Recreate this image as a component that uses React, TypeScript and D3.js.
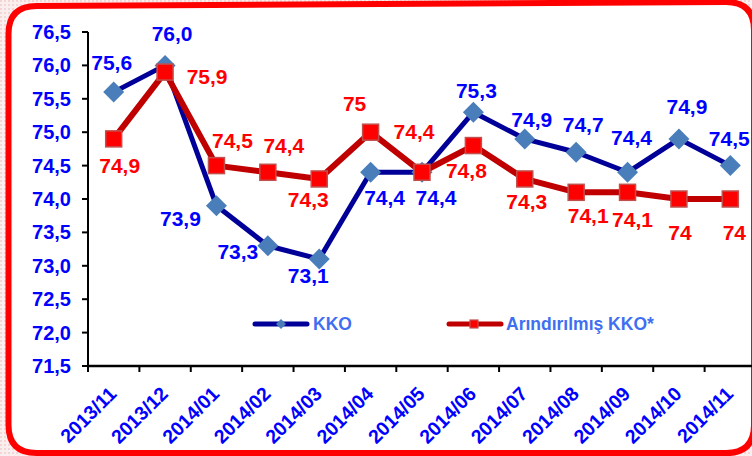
import React, { useEffect, useRef } from "react";
import * as d3 from "d3";

const months = [
  "2013/11", "2013/12", "2014/01", "2014/02", "2014/03", "2014/04", "2014/05",
  "2014/06", "2014/07", "2014/08", "2014/09", "2014/10", "2014/11",
];
const kko = [75.6, 76.0, 73.9, 73.3, 73.1, 74.4, 74.4, 75.3, 74.9, 74.7, 74.4, 74.9, 74.5];
const kkoAdj = [74.9, 75.9, 74.5, 74.4, 74.3, 75.0, 74.4, 74.8, 74.3, 74.1, 74.1, 74.0, 74.0];
const kkoLabels = ["75,6", "76,0", "73,9", "73,3", "73,1", "74,4", "74,4", "75,3", "74,9", "74,7", "74,4", "74,9", "74,5"];
const kkoAdjLabels = ["74,9", "75,9", "74,5", "74,4", "74,3", "75", "74,4", "74,8", "74,3", "74,1", "74,1", "74", "74"];
const yTicks = [71.5, 72.0, 72.5, 73.0, 73.5, 74.0, 74.5, 75.0, 75.5, 76.0, 76.5];

// label offsets from the marker, [dx, dy] of the text centre
const kkoOffsets = [
  [-2, -29], [7, -31], [-36, 13], [-30, 6], [-11, 17], [14, 26], [14, 26],
  [3, -21], [7, -19], [7, -27], [4, -34], [8, -32], [-1, -27],
];
const adjOffsets = [
  [6, 27], [42, 5], [16, -25], [16, -26], [-11, 21], [-16, -28], [-8, -40],
  [-7, 25], [2, 23], [12, 24], [5, 28], [1, 34], [4, 34],
];

const W = 752;
const H = 456;
const FONT = "Arial, 'Liberation Sans', sans-serif";

const App = () => {
  const ref = useRef<SVGSVGElement>(null);

  useEffect(() => {
    const svg = d3.select(ref.current);
    svg.selectAll("*").remove();

    const x = d3.scaleBand().domain(months).range([88, 756]);
    const y = d3.scaleLinear().domain([71.5, 76.5]).range([366, 32]);
    const cx = (m: string) => (x(m) as number) + x.bandwidth() / 2;

    // pinkish textured background outside the frame
    const defs = svg.append("defs");
    const pat = defs
      .append("pattern")
      .attr("id", "bg")
      .attr("width", 4)
      .attr("height", 4)
      .attr("patternUnits", "userSpaceOnUse");
    pat.append("rect").attr("width", 4).attr("height", 4).attr("fill", "#fbeeee");
    pat.append("rect").attr("width", 2).attr("height", 2).attr("fill", "#f2d6d6");
    svg.append("rect").attr("width", W).attr("height", H).attr("fill", "url(#bg)");

    // rounded red frame, top edge slightly slanted
    const r = 28;
    const frame = `M 8.5 ${6 + r} Q 8.5 6 ${8.5 + r} 6 L ${754 - r} 2 Q 754 2 754 ${2 + r} L 754 ${453 - r} Q 754 453 ${754 - r} 453 L ${8.5 + r} 453 Q 8.5 453 8.5 ${453 - r} Z`;
    svg.append("path").attr("d", frame).attr("fill", "#fff").attr("stroke", "#ff0000").attr("stroke-width", 6);

    // y axis
    svg.append("line").attr("x1", 88).attr("x2", 88).attr("y1", y(76.5)).attr("y2", y(71.5))
      .attr("stroke", "#000").attr("stroke-width", 2);
    yTicks.forEach((t) => {
      svg.append("line").attr("x1", 82).attr("x2", 88).attr("y1", y(t)).attr("y2", y(t))
        .attr("stroke", "#000").attr("stroke-width", 2);
      svg.append("text").attr("x", 71).attr("y", y(t) + 7).attr("text-anchor", "end")
        .attr("font-family", FONT).attr("font-weight", "bold").attr("font-size", 20)
        .attr("fill", "#0000ff").text(d3.format(".1f")(t).replace(".", ","));
    });

    // x axis
    svg.append("line").attr("x1", 87).attr("x2", 756).attr("y1", y(71.5)).attr("y2", y(71.5))
      .attr("stroke", "#000").attr("stroke-width", 2.5);
    months.forEach((m, i) => {
      const bx = (x(m) as number);
      svg.append("line").attr("x1", bx).attr("x2", bx).attr("y1", 366).attr("y2", 372)
        .attr("stroke", "#000").attr("stroke-width", 2);
      svg.append("text")
        .attr("transform", `translate(${cx(m) + 4},${395}) rotate(-45)`)
        .attr("text-anchor", "end")
        .attr("font-family", FONT).attr("font-weight", "bold").attr("font-size", 19.5)
        .attr("fill", "#0000ff").text(m);
      if (i === months.length - 1) {
        const ex = bx + x.bandwidth();
        svg.append("line").attr("x1", ex).attr("x2", ex).attr("y1", 366).attr("y2", 372)
          .attr("stroke", "#000").attr("stroke-width", 2);
      }
    });

    const line = d3.line<number>().x((_, i) => cx(months[i])).y((d) => y(d));

    // KKO series
    svg.append("path").datum(kko).attr("d", line).attr("fill", "none")
      .attr("stroke", "#000099").attr("stroke-width", 5).attr("stroke-linejoin", "round");
    const diamond = (s: number) => `M 0 ${-s} L ${s} 0 L 0 ${s} L ${-s} 0 Z`;
    kko.forEach((v, i) => {
      svg.append("path").attr("d", diamond(10.5))
        .attr("transform", `translate(${cx(months[i])},${y(v)})`)
        .attr("fill", "#4a7ebb");
    });

    // Arındırılmış KKO series
    svg.append("path").datum(kkoAdj).attr("d", line).attr("fill", "none")
      .attr("stroke", "#c00000").attr("stroke-width", 6).attr("stroke-linejoin", "round");
    kkoAdj.forEach((v, i) => {
      svg.append("rect").attr("x", cx(months[i]) - 8).attr("y", y(v) - 8)
        .attr("width", 16).attr("height", 16)
        .attr("fill", "#ff0000").attr("stroke", "#c0504d").attr("stroke-width", 1.5);
    });

    // data labels
    kko.forEach((v, i) => {
      svg.append("text").attr("x", cx(months[i]) + kkoOffsets[i][0]).attr("y", y(v) + kkoOffsets[i][1] + 7)
        .attr("text-anchor", "middle").attr("font-family", FONT).attr("font-weight", "bold")
        .attr("font-size", 21).attr("fill", "#0000ff").text(kkoLabels[i]);
    });
    kkoAdj.forEach((v, i) => {
      svg.append("text").attr("x", cx(months[i]) + adjOffsets[i][0]).attr("y", y(v) + adjOffsets[i][1] + 7)
        .attr("text-anchor", "middle").attr("font-family", FONT).attr("font-weight", "bold")
        .attr("font-size", 21).attr("fill", "#ff0000").text(kkoAdjLabels[i]);
    });

    // legend
    const ly = 324;
    svg.append("line").attr("x1", 255).attr("x2", 307).attr("y1", ly).attr("y2", ly)
      .attr("stroke", "#000099").attr("stroke-width", 5).attr("stroke-linecap", "round");
    svg.append("path").attr("d", diamond(5)).attr("transform", `translate(281,${ly})`).attr("fill", "#4a7ebb");
    svg.append("text").attr("x", 313).attr("y", ly + 6).attr("font-family", FONT).attr("font-weight", "bold")
      .attr("font-size", 17.5).attr("fill", "#3f6ff0").text("KKO");

    svg.append("line").attr("x1", 449).attr("x2", 501).attr("y1", ly).attr("y2", ly)
      .attr("stroke", "#c00000").attr("stroke-width", 5).attr("stroke-linecap", "round");
    svg.append("rect").attr("x", 470).attr("y", ly - 4).attr("width", 8).attr("height", 8)
      .attr("fill", "#ff0000").attr("stroke", "#c0504d").attr("stroke-width", 1.2);
    svg.append("text").attr("x", 506).attr("y", ly + 6).attr("font-family", FONT).attr("font-weight", "bold")
      .attr("font-size", 17.5).attr("fill", "#3f6ff0").text("Arındırılmış KKO*");
  }, []);

  return (
    <svg
      ref={ref}
      width={W}
      height={H}
      style={{ position: "absolute", left: 0, top: 0, display: "block" }}
    />
  );
};

export default App;
